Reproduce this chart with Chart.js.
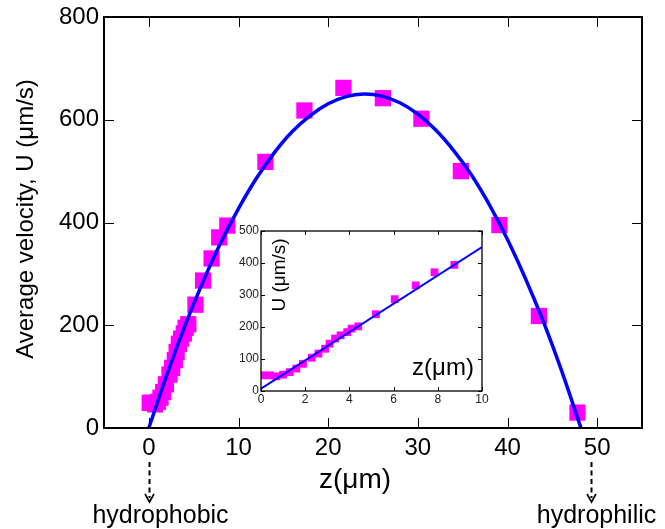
<!DOCTYPE html>
<html>
<head>
<meta charset="utf-8">
<script src="https://cdn.jsdelivr.net/npm/chart.js@4"></script>
<style>
  html, body { margin: 0; padding: 0; background: #fff; }
  #wrap { position: relative; width: 665px; height: 529px; }
  #main { position: absolute; left: 0; top: 0; }
  #inset { position: absolute; left: 220px; top: 215px; }
</style>
</head>
<body>
<div id="wrap">
  <canvas id="main" width="665" height="529"></canvas>
  <canvas id="inset" width="280" height="200"></canvas>
</div>
<script>
// Measured average velocity U (µm/s) at height z (µm)
const velZ = [0.1, 0.4, 0.7, 1.0, 1.3, 1.6, 1.9, 2.3, 2.6, 2.9, 3.1, 3.35, 3.6, 3.9, 4.1, 4.4,
              5.2, 6.05, 7.0, 7.85, 8.75, 13.0, 17.35, 21.7, 26.1, 30.4, 34.8, 39.1, 43.5, 47.8];
const velU = [49, 49, 46, 51, 59, 70, 85, 104, 117, 132, 148, 164, 174, 184, 195, 202,
              240, 287, 330, 371, 394, 518, 618, 662, 642, 602, 500, 395, 218, 30];

// Parabolic profile across the channel
const fitZ = [0, 2, 4, 6, 8, 10, 12, 14, 16, 18, 20, 22, 24, 26, 28, 30, 32, 34, 36, 38, 40, 42, 44, 46, 48, 48.2];
const fitU = [0, 103, 198, 283, 360, 427, 486, 536, 577, 608, 631, 645, 650, 646, 633, 611, 580, 540, 492, 434, 367, 291, 207, 113, 10, 0];

// Linear fit near the hydrophobic wall
const linZ = [0, 10];
const linU = [7, 450];

// Tick values
const mainXTicks = [0, 10, 20, 30, 40, 50];
const mainYTicks = [0, 200, 400, 600, 800];
const insetXTicks = [0, 2, 4, 6, 8, 10];
const insetYTicks = [0, 100, 200, 300, 400, 500];

// Wall markers below the axis
const wallZ = [0, 49.3];
const wallLabels = ['hydrophobic', 'hydrophilic'];

const FONT = '"Liberation Sans", Arial, Helvetica, sans-serif';
const MAGENTA = '#FF00FF';
const BLUE = '#0000FF';

const pts = (xs, ys) => xs.map((x, i) => ({ x: x, y: ys[i] }));
const setTicks = vals => s => { s.ticks = vals.map(v => ({ value: v })); };

// Box frame with inward ticks on all four sides
function framePlugin(len, tickWidth, frameWidth) {
  return {
    id: 'frame',
    afterDatasetsDraw(chart) {
      const { ctx, chartArea: a, scales: { x, y } } = chart;
      ctx.save();
      ctx.strokeStyle = '#000';
      ctx.lineWidth = tickWidth;
      ctx.beginPath();
      x.ticks.forEach(t => {
        const px = Math.round(x.getPixelForValue(t.value)) + 0.5;
        ctx.moveTo(px, a.bottom); ctx.lineTo(px, a.bottom - len);
        ctx.moveTo(px, a.top); ctx.lineTo(px, a.top + len);
      });
      y.ticks.forEach(t => {
        const py = Math.round(y.getPixelForValue(t.value)) + 0.5;
        ctx.moveTo(a.left, py); ctx.lineTo(a.left + len, py);
        ctx.moveTo(a.right, py); ctx.lineTo(a.right - len, py);
      });
      ctx.stroke();
      ctx.lineWidth = frameWidth;
      ctx.strokeRect(a.left, a.top, a.right - a.left, a.bottom - a.top);
      ctx.restore();
    }
  };
}

// Axis titles and the wall annotations of the main plot
const mainText = {
  id: 'mainText',
  afterDraw(chart) {
    const { ctx, scales: { x } } = chart;
    ctx.save();
    ctx.fillStyle = '#000';
    ctx.textAlign = 'center';
    ctx.textBaseline = 'middle';

    ctx.save();
    ctx.translate(26, 219);
    ctx.rotate(-Math.PI / 2);
    ctx.font = '24px ' + FONT;
    ctx.fillText('Average velocity, U (μm/s)', 0, 0);
    ctx.restore();

    ctx.font = '28px ' + FONT;
    ctx.fillText('z(μm)', x.getPixelForValue(23), 480);

    ctx.font = '25px ' + FONT;
    wallZ.forEach((z, i) => {
      const px = Math.round(x.getPixelForValue(z)) + 0.5;
      ctx.strokeStyle = '#000';
      ctx.lineWidth = 2;
      ctx.setLineDash([5, 3.5]);
      ctx.beginPath();
      ctx.moveTo(px, 462);
      ctx.lineTo(px, 498);
      ctx.stroke();
      ctx.setLineDash([]);
      ctx.lineWidth = 1.6;
      ctx.beginPath();
      ctx.moveTo(px - 4.5, 494);
      ctx.lineTo(px, 502);
      ctx.lineTo(px + 4.5, 494);
      ctx.stroke();
      const shift = i === 0 ? 11 : 5;
      ctx.fillText(wallLabels[i], px + shift, 516);
    });
    ctx.restore();
  }
};

new Chart(document.getElementById('main'), {
  type: 'scatter',
  data: {
    datasets: [
      {
        type: 'line',
        data: pts(fitZ, fitU),
        borderColor: BLUE,
        borderWidth: 3.5,
        pointRadius: 0,
        tension: 0.4,
        fill: false
      },
      {
        data: pts(velZ, velU),
        backgroundColor: MAGENTA,
        borderWidth: 0,
        pointStyle: 'rect',
        pointRadius: 11.5
      }
    ]
  },
  options: {
    responsive: false,
    animation: false,
    events: [],
    layout: { padding: { left: 0, top: 14, right: 23, bottom: 0 } },
    plugins: { legend: { display: false }, tooltip: { enabled: false } },
    scales: {
      x: {
        type: 'linear', min: -5, max: 55,
        afterBuildTicks: setTicks(mainXTicks),
        afterFit: s => { s.height = 101; },
        grid: { display: false, drawTicks: false },
        border: { display: false },
        ticks: { color: '#000', font: { family: FONT, size: 24, lineHeight: 1 }, padding: 8, maxRotation: 0, autoSkip: false }
      },
      y: {
        type: 'linear', min: 0, max: 800,
        afterBuildTicks: setTicks(mainYTicks),
        afterFit: s => { s.width = 104; },
        grid: { display: false, drawTicks: false },
        border: { display: false },
        ticks: { color: '#000', font: { family: FONT, size: 24, lineHeight: 1 }, padding: 5, autoSkip: false }
      }
    }
  },
  plugins: [framePlugin(10, 1, 2), mainText]
});

// Inset: close-up of the region near the hydrophobic wall
const insetBg = {
  id: 'insetBg',
  beforeDraw(chart) {
    const { ctx, chartArea: a } = chart;
    ctx.save();
    ctx.fillStyle = '#fff';
    ctx.fillRect(a.left, a.top, a.right - a.left, a.bottom - a.top);
    ctx.restore();
  }
};
const insetText = {
  id: 'insetText',
  afterDraw(chart) {
    const { ctx } = chart;
    ctx.save();
    ctx.fillStyle = '#000';
    ctx.textAlign = 'center';
    ctx.textBaseline = 'middle';
    ctx.save();
    ctx.translate(60, 60);
    ctx.rotate(-Math.PI / 2);
    ctx.font = '19px ' + FONT;
    ctx.fillText('U (μm/s)', 0, 0);
    ctx.restore();
    ctx.font = '24px ' + FONT;
    ctx.fillText('z(μm)', 223, 153);
    ctx.restore();
  }
};

new Chart(document.getElementById('inset'), {
  type: 'scatter',
  data: {
    datasets: [
      {
        type: 'line',
        data: pts(linZ, linU),
        borderColor: BLUE,
        borderWidth: 2,
        pointRadius: 0,
        fill: false
      },
      {
        data: pts(velZ, velU),
        backgroundColor: MAGENTA,
        borderWidth: 0,
        pointStyle: 'rect',
        pointRadius: 5.5
      }
    ]
  },
  options: {
    responsive: false,
    animation: false,
    events: [],
    layout: { padding: { left: 0, top: 16, right: 18, bottom: 0 } },
    plugins: { legend: { display: false }, tooltip: { enabled: false } },
    scales: {
      x: {
        type: 'linear', min: 0, max: 10,
        afterBuildTicks: setTicks(insetXTicks),
        afterFit: s => { s.height = 24; },
        grid: { display: false, drawTicks: false },
        border: { display: false },
        ticks: { color: '#222', font: { family: FONT, size: 12, lineHeight: 1 }, padding: 3, maxRotation: 0, autoSkip: false }
      },
      y: {
        type: 'linear', min: 0, max: 500,
        afterBuildTicks: setTicks(insetYTicks),
        afterFit: s => { s.width = 41; },
        grid: { display: false, drawTicks: false },
        border: { display: false },
        ticks: { color: '#222', font: { family: FONT, size: 12, lineHeight: 1 }, padding: 2, autoSkip: false }
      }
    }
  },
  plugins: [insetBg, framePlugin(4, 1, 1.3), insetText]
});
</script>
</body>
</html>
